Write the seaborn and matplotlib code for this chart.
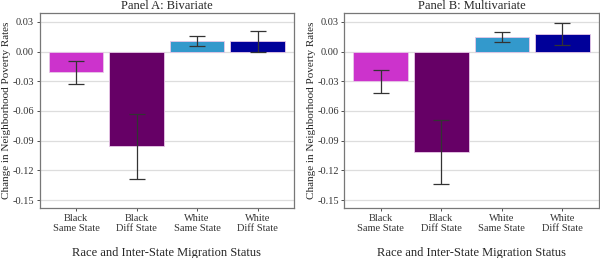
import numpy as np
import pandas as pd
import matplotlib
matplotlib.use("Agg")
import matplotlib.pyplot as plt
import seaborn as sns

groups = ["Black\nSame State", "Black\nDiff State", "White\nSame State", "White\nDiff State"]
colors = ["#cc33cc", "#660066", "#3399cc", "#000099"]
titles = ["Panel A: Bivariate", "Panel B: Multivariate"]

biv_est = [-0.021, -0.095, 0.0105, 0.0105]
biv_lo = [-0.033, -0.129, 0.006, 0.000]
biv_hi = [-0.010, -0.063, 0.0155, 0.021]

mul_est = [-0.030, -0.101, 0.015, 0.018]
mul_lo = [-0.042, -0.134, 0.010, 0.007]
mul_hi = [-0.019, -0.069, 0.020, 0.029]

yticks = [0.03, 0.00, -0.03, -0.06, -0.09, -0.12, -0.15]
ytick_labels = ["0.03", "0.00", "-0.03", "-0.06", "-0.09", "-0.12", "-0.15"]

sns.set_style("white")
plt.rcParams["font.family"] = ["Liberation Serif", "DejaVu Serif"]

fig = plt.figure(figsize=(6, 2.58), dpi=100)
axes = [fig.add_axes([0.066, 0.194, 0.424, 0.756]),
        fig.add_axes([0.574, 0.194, 0.424, 0.756])]

panels = [(biv_est, biv_lo, biv_hi), (mul_est, mul_lo, mul_hi)]
for ax, title, (est, lo, hi) in zip(axes, titles, panels):
    df = pd.DataFrame({"group": groups, "est": est, "lo": lo, "hi": hi})
    sns.barplot(data=df, x="group", y="est", hue="group", palette=colors,
                order=groups, width=0.9, legend=False, ax=ax,
                edgecolor="#e8c8e8", linewidth=0.6, saturation=1)
    ax.errorbar(np.arange(len(groups)), df["est"],
                yerr=[df["est"] - df["lo"], df["hi"] - df["est"]],
                fmt="none", ecolor="#333333", elinewidth=0.9, capsize=5.5,
                capthick=0.9)
    ax.set_xlim(-0.6, 3.6)
    ax.set_ylim(-0.158, 0.039)
    ax.set_yticks(yticks)
    ax.set_yticklabels(ytick_labels)
    ax.yaxis.grid(True, color="#dddddd", linewidth=0.9)
    ax.set_axisbelow(True)
    for s in ax.spines.values():
        s.set_color("#777777")
        s.set_linewidth(0.9)
    ax.tick_params(axis="both", labelsize=7.5, colors="#333333", length=2,
                   width=0.6, pad=2, left=True, bottom=True)
    ax.set_title(title, fontsize=9, pad=3)
    ax.set_xlabel("Race and Inter-State Migration Status", fontsize=9, labelpad=10)
    ax.set_ylabel("Change in Neighborhood Poverty Rates", fontsize=8, labelpad=1)

plt.savefig("out.png", dpi=100)
